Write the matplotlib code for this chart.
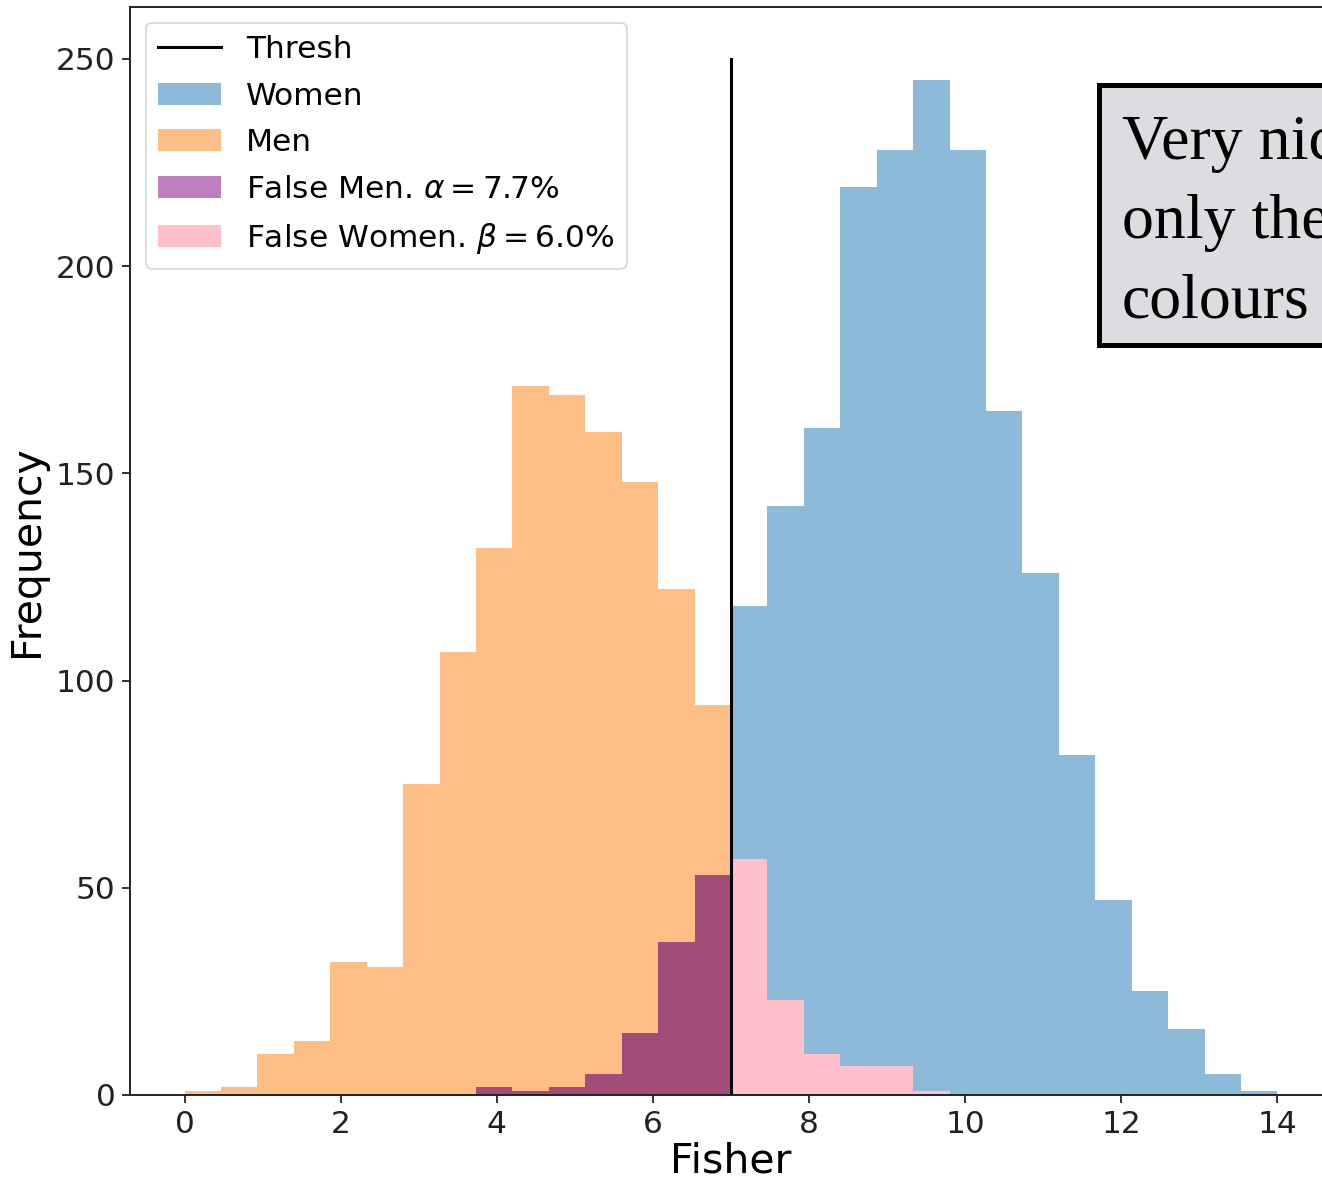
import numpy as np
import matplotlib
matplotlib.use("Agg")
import matplotlib.pyplot as plt
from matplotlib.lines import Line2D
from matplotlib.patches import Patch, Rectangle

# Histogram counts over 30 equal bins spanning Fisher scores 0..14
bin_range = (0.0, 14.0)
n_bins = 30
threshold = 7.0
thresh_top = 250

women_counts = [0, 0, 0, 0, 0, 0, 0, 0, 2, 1, 2, 5, 15, 37, 53,
                118, 142, 161, 219, 228, 245, 228, 165, 126, 82, 47, 25, 16, 5, 1]
men_counts = [1, 2, 10, 13, 32, 31, 75, 107, 132, 171, 169, 160, 148, 122, 94,
              57, 23, 10, 7, 7, 1, 0, 0, 0, 0, 0, 0, 0, 0, 0]

alpha_pct = 7.7
beta_pct = 6.0

W, H = 1322, 1185
fig = plt.figure(figsize=(W / 100, H / 100), dpi=100)
ax = fig.add_axes([130 / W, 1 - 1095 / H, (1332 - 130) / W, (1095 - 7) / H])

edges = np.linspace(bin_range[0], bin_range[1], n_bins + 1)
women = np.asarray(women_counts, dtype=float)
men = np.asarray(men_counts, dtype=float)
left = edges[:-1]
false_men = np.where(left < threshold, women, 0)
false_women = np.where(left >= threshold, men, 0)

c_women = (31 / 255, 119 / 255, 180 / 255, 0.5)
c_men = (255 / 255, 127 / 255, 14 / 255, 0.5)
c_fmen = (128 / 255, 0, 128 / 255, 0.5)
c_fwomen = "pink"

ax.stairs(women, edges, fill=True, color=c_women, lw=0)
ax.stairs(men, edges, fill=True, color=c_men, lw=0)
ax.stairs(false_men, edges, fill=True, color=c_fmen, lw=0)
ax.stairs(false_women, edges, fill=True, color=c_fwomen, lw=0)
ax.plot([threshold, threshold], [0, thresh_top], color="black", lw=2.2)

ax.set_xlim(-0.7, 14.7)
ax.set_ylim(0, 262.5)
ax.set_xticks(np.arange(0, 15, 2))
ax.set_yticks(np.arange(0, 251, 50))
ax.tick_params(labelsize=22.5, length=5.5, width=1.3, pad=5, colors="#222222",
               labelcolor="#222222")
for s in ax.spines.values():
    s.set_linewidth(1.4)
    s.set_color("#222222")

ax.set_xlabel("Fisher", fontsize=29.5, labelpad=2)
ax.set_ylabel("Frequency", fontsize=29.5, labelpad=6)

handles = [
    Line2D([], [], color="black", lw=2.2),
    Patch(color=c_women, lw=0),
    Patch(color=c_men, lw=0),
    Patch(color=c_fmen, lw=0),
    Patch(color=c_fwomen, lw=0),
]
labels = ["Thresh", "Women", "Men",
          rf"False Men. $\alpha={alpha_pct:.1f}\%$",
          rf"False Women. $\beta={beta_pct:.1f}\%$"]
leg = ax.legend(handles, labels, loc="upper left", fontsize=22.5,
                framealpha=0.8, borderaxespad=0.5, labelspacing=0.56)
leg.get_frame().set_linewidth(1.2)

# Comment box at the top right of the figure
box_x0, box_y0, box_x1, box_y1 = 1099, 85, 1420, 345
fig.patches.append(Rectangle((box_x0 / W, 1 - box_y1 / H),
                             (box_x1 - box_x0) / W, (box_y1 - box_y0) / H,
                             transform=fig.transFigure, facecolor="#dcdde0",
                             edgecolor="black", lw=3.6, zorder=5, clip_on=False))
comment = ["Very nice", "only the", "colours"]
for i, line in enumerate(comment):
    fig.text(1122 / W, 1 - (159 + 79 * i) / H, line, fontsize=46,
             family="Liberation Serif", va="baseline", ha="left", zorder=6)

fig.savefig("out.png", dpi=100)
